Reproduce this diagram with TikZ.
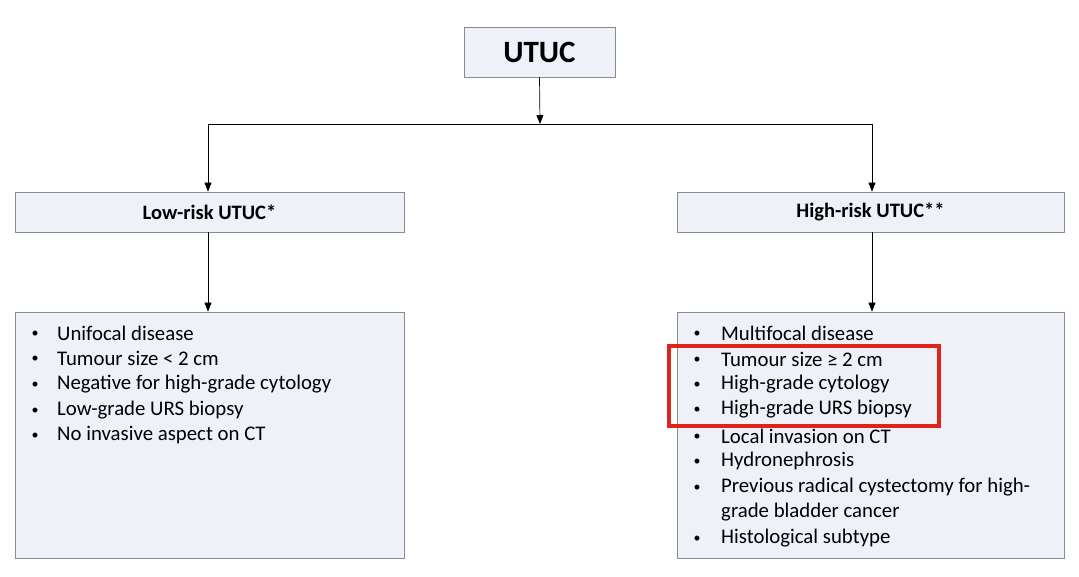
\documentclass[tikz,border=0pt]{standalone}
\usepackage{fontspec}
\setmainfont{Carlito}
\usetikzlibrary{arrows.meta}
\definecolor{boxfill}{HTML}{EEF2F8}
\definecolor{boxline}{HTML}{8C8C8C}
\definecolor{hl}{HTML}{E0241B}
\begin{document}
\begin{tikzpicture}[x=1pt,y=-1pt,
  box/.style={draw=boxline,fill=boxfill,line width=0.8pt},
  arr/.style={-{Triangle[length=9pt,width=7pt]},line width=0.7pt},
  li/.style={anchor=west,font=\fontsize{20.8}{22}\selectfont,inner sep=0pt},
  bu/.style={anchor=center,font=\fontsize{14}{16}\selectfont,inner sep=0pt}]
\useasboundingbox (0,0) rectangle (1079,577);
\node[box,minimum width=151pt,minimum height=50pt,font=\fontsize{31}{33}\selectfont\bfseries] (utuc) at (539.5,52) {UTUC};
\node[box,minimum width=389pt,minimum height=40pt,font=\fontsize{20.5}{22}\selectfont\bfseries] (low) at (209.5,212) {Low-risk UTUC*};
\node[box,minimum width=387pt,minimum height=40pt,font=\fontsize{20.5}{22}\selectfont\bfseries] (high) at (870.5,212) {High-risk UTUC**};
\node[box,minimum width=389pt,minimum height=246pt] (lbox) at (209.5,435) {};
\node[box,minimum width=387pt,minimum height=246pt] (rbox) at (870.5,435) {};
\coordinate (j) at (540,124);
\coordinate (jl) at (208,124);
\coordinate (jr) at (872,124);
\draw[arr] (utuc.south) -- (j);
\draw[line width=0.7pt] (jl) -- (jr);
\draw[arr] (jl) -- (low.north -| jl);
\draw[arr] (jr) -- (high.north -| jr);
\draw[arr] (low.south -| jl) -- (lbox.north -| jl);
\draw[arr] (high.south -| jr) -- (rbox.north -| jr);
\foreach \t [count=\i] in {Unifocal disease,Tumour size < 2 cm,Negative for high-grade cytology,Low-grade URS biopsy,No invasive aspect on CT}{
  \node[bu] (lb\i) at (35,{334+(\i-1)*25.6}) {•};
  \node[li] (lt\i) at (57,{333+(\i-1)*25.6}) {\t};
}
\foreach \t/\y [count=\i] in {Multifocal disease/333,Tumour size ≥ 2 cm/359,High-grade cytology/384,High-grade URS biopsy/409,Local invasion on CT/436,Hydronephrosis/461,Previous radical cystectomy for high-/487,Histological subtype/538}{
  \node[bu] (rb\i) at (697,\y+1) {•};
  \node[li] (rt\i) at (721,\y) {\t};
}
\node[li] (rt9) at (721,512) {grade bladder cancer};
\node[draw=hl,line width=3.5pt,minimum width=270pt,minimum height=80pt,inner sep=0pt] (red) at (804,386) {};
\end{tikzpicture}
\end{document}
